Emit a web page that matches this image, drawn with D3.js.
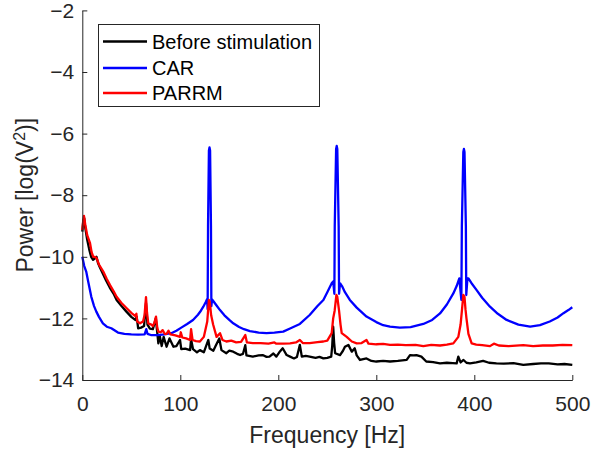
<!DOCTYPE html>
<html>
<head>
<meta charset="utf-8">
<script src="https://d3js.org/d3.v7.min.js"></script>
<style>
  body { margin: 0; background: #fff; }
  svg text { font-family: Arial, "Liberation Sans", Helvetica, sans-serif; fill: #262626; }
</style>
</head>
<body>
<div id="chart"></div>
<script>
// ---- data ----
var xTicks = [0, 100, 200, 300, 400, 500];
var yTicks = [-14, -12, -10, -8, -6, -4, -2];
var seriesNames = ["Before stimulation", "CAR", "PARRM"];
var seriesColors = ["#000000", "#0000ff", "#ff0000"];

// [frequency Hz, power log(V^2)]
var beforeStim = [
  [0,-9.18],[1,-8.85],[2,-8.75],[3,-9.05],[5,-9.45],[7,-9.75],[9,-10.0],[11,-10.1],[13,-10.05],[14.5,-10.0],
  [16,-10.2],[18,-10.35],[21,-10.55],[24,-10.75],[28,-11.0],[32,-11.2],[35,-11.4],[40,-11.6],[45,-11.78],
  [50,-11.95],[54,-12.05],[55.5,-11.95],[57,-12.32],[60,-12.3],[63,-12.25],[65,-11.5],[66.5,-12.2],[69,-12.33],
  [72,-12.35],[75,-12.0],[77.6,-12.81],[79,-12.55],[81,-12.9],[83,-12.6],[86,-12.92],[89,-12.65],[93,-12.92],
  [96,-12.9],[99.7,-12.7],[101,-13.0],[105,-12.98],[110,-13.03],[111,-12.68],[113,-13.0],[117,-13.1],[120,-13.03],
  [124,-13.1],[128.6,-12.7],[130,-12.98],[133.7,-13.05],[136,-12.9],[139.8,-12.65],[142,-13.03],[147,-13.13],
  [150,-13.05],[154,-13.08],[158,-13.15],[161,-13.19],[164,-13.15],[166.3,-12.87],[167.5,-13.2],[174,-13.24],
  [180,-13.2],[184,-13.19],[188,-13.25],[191,-13.24],[195,-13.14],[198,-13.24],[201,-13.1],[204.5,-12.97],
  [208.5,-13.19],[212,-13.24],[216,-13.3],[219,-13.25],[222,-12.86],[224,-13.24],[228,-13.22],[232,-13.24],
  [238,-13.28],[242,-13.25],[246,-13.3],[250,-13.28],[254,-13.24],[255,-12.9],[256,-12.27],[257,-12.8],
  [258,-13.13],[263,-13.19],[266,-13.05],[268,-12.92],[271.5,-12.86],[275,-13.08],[278,-12.97],[280,-13.2],
  [283.4,-13.35],[290,-13.3],[295,-13.38],[300,-13.4],[307,-13.38],[314,-13.4],[322,-13.38],[331,-13.35],
  [334.4,-13.19],[338,-13.2],[341,-13.19],[346,-13.24],[351,-13.4],[358,-13.42],[365,-13.46],[372,-13.44],
  [378,-13.45],[382,-13.46],[383.7,-13.24],[386,-13.43],[389,-13.35],[392,-13.44],[395.6,-13.46],[402,-13.43],
  [409,-13.38],[415,-13.44],[422.6,-13.46],[430,-13.47],[440,-13.45],[450,-13.51],[460,-13.48],[468,-13.46],
  [476,-13.46],[485,-13.49],[492,-13.48],[500,-13.51]
];

var car = [
  [0,-10.0],[1,-10.15],[2,-10.3],[4,-10.48],[6,-10.8],[9.2,-11.3],[12,-11.6],[14.3,-11.78],[17,-11.95],
  [21,-12.16],[25,-12.27],[29.6,-12.32],[36.4,-12.46],[43,-12.5],[50,-12.52],[57,-12.53],[63.6,-12.52],
  [65.3,-12.35],[66.5,-12.5],[70,-12.54],[77,-12.54],[84,-12.52],[90.8,-12.48],[96,-12.4],[101,-12.3],
  [107,-12.18],[113,-12.05],[118,-11.88],[121,-11.75],[123.5,-11.62],[126,-11.47],[127.3,-11.38],[127.9,-11.7],
  [128.3,-9.0],[129.2,-6.55],[129.8,-6.45],[130.4,-6.55],[131.3,-9.0],[131.7,-11.6],[132.4,-11.38],[134,-11.45],
  [137,-11.58],[140.5,-11.73],[145,-11.9],[150,-12.05],[154,-12.16],[160,-12.28],[165,-12.35],[171,-12.41],
  [180,-12.46],[188,-12.48],[196,-12.46],[205,-12.43],[212,-12.33],[222,-12.18],[232,-11.89],[240,-11.6],
  [246,-11.4],[250,-11.15],[254.5,-10.86],[256,-10.8],[257.2,-11.2],[257.6,-9.0],[259.0,-6.5],[259.6,-6.4],
  [260.2,-6.5],[261.6,-9.0],[262,-11.2],[263,-10.86],[265,-10.95],[268,-11.15],[273,-11.4],[280,-11.65],
  [290,-11.94],[300,-12.12],[307,-12.22],[314,-12.27],[324,-12.3],[335,-12.28],[348,-12.18],[357,-12.05],
  [365,-11.84],[372,-11.55],[378.6,-11.19],[382,-10.95],[384.7,-10.7],[386.8,-11.4],[387.3,-9.0],[388.8,-6.6],
  [389.4,-6.5],[390,-6.6],[391.4,-9.0],[391.8,-11.24],[393,-10.7],[394,-10.7],[397,-10.85],[402.4,-11.08],
  [408,-11.33],[416,-11.62],[424,-11.85],[433,-12.05],[445,-12.2],[457,-12.27],[467,-12.22],[477,-12.1],
  [485,-11.97],[491,-11.83],[496,-11.73],[500,-11.64]
];

var parrm = [
  [0,-9.13],[1,-8.8],[1.7,-8.67],[3,-8.95],[5,-9.3],[7.9,-9.56],[9.5,-9.85],[11.2,-10.0],[13,-10.0],[14.7,-10.05],
  [17,-10.25],[21.4,-10.48],[25,-10.72],[28.3,-10.92],[32,-11.12],[35,-11.3],[40,-11.5],[45.3,-11.67],[50,-11.82],
  [53.8,-11.92],[55.2,-11.85],[56,-12.1],[58.9,-12.16],[62,-12.1],[63.5,-11.9],[65,-11.31],[66,-11.8],[67.3,-12.16],
  [70.5,-12.2],[72,-12.25],[73.5,-12.15],[75.2,-11.94],[76.5,-12.3],[77.6,-12.43],[80,-12.45],[82,-12.38],
  [84,-12.5],[86,-12.5],[88,-12.4],[90,-12.52],[95,-12.55],[99.7,-12.6],[100.5,-12.45],[102,-12.62],[106,-12.65],
  [110,-12.7],[111,-12.35],[112.5,-12.7],[116,-12.74],[120,-12.75],[124,-12.6],[127.5,-12.1],[129.2,-11.4],
  [130,-11.45],[131.5,-11.9],[133.5,-12.2],[137,-12.6],[140.5,-12.48],[143,-12.7],[147,-12.75],[152,-12.72],
  [157,-12.78],[162,-12.76],[166.3,-12.54],[168,-12.78],[174,-12.8],[182,-12.8],[190,-12.82],[196,-12.78],
  [198,-12.82],[205,-12.82],[212,-12.81],[218,-12.78],[222,-12.7],[225,-12.8],[232,-12.8],[240,-12.77],
  [246,-12.75],[250,-12.72],[254.5,-12.48],[256,-12.0],[257.5,-11.75],[259.3,-11.24],[260.2,-11.3],[261,-11.5],
  [262,-11.75],[263.5,-12.2],[264.7,-12.48],[269.8,-12.6],[275,-12.75],[280,-12.81],[285,-12.8],[290,-12.7],
  [292,-12.82],[300,-12.84],[307,-12.83],[314,-12.86],[322,-12.85],[330,-12.87],[340,-12.86],[348,-12.9],
  [356,-12.86],[365,-12.88],[372,-12.85],[378.6,-12.81],[383.7,-12.6],[386,-12.2],[387.5,-11.7],[388.8,-11.24],
  [390,-11.3],[391,-11.7],[392,-12.0],[394,-12.5],[397.3,-12.81],[402,-12.85],[408,-12.87],[416,-12.9],
  [420,-12.82],[425,-12.88],[435,-12.9],[450,-12.87],[460,-12.9],[470,-12.88],[480,-12.88],[490,-12.86],
  [500,-12.87]
];

// ---- layout ----
var W = 593, H = 452;
var margin = { top: 10.4, right: 20.7, bottom: 72, left: 82.3 };
var width = W - margin.left - margin.right;
var height = H - margin.top - margin.bottom;

var svg = d3.select("#chart").append("svg")
    .attr("width", W)
    .attr("height", H);

var g = svg.append("g")
    .attr("transform", "translate(" + margin.left + "," + margin.top + ")");

var x = d3.scaleLinear().domain([0, 500]).range([0, width]);
var y = d3.scaleLinear().domain([-14, -2]).range([height, 0]);

var line = d3.line()
    .x(function(d) { return x(d[0]); })
    .y(function(d) { return y(d[1]); });

// lines: black, blue, red (red drawn on top)
var allSeries = [beforeStim, car, parrm];
allSeries.forEach(function(s, i) {
    g.append("path")
        .datum(s)
        .attr("d", line)
        .attr("fill", "none")
        .attr("stroke", seriesColors[i])
        .attr("stroke-width", 2.3)
        .attr("stroke-linejoin", "round");
});

// axes (MATLAB style: box off, ticks pointing in)
var xAxis = g.append("g")
    .attr("transform", "translate(0," + height + ")")
    .call(d3.axisBottom(x).tickValues(xTicks).tickSizeInner(-5).tickSizeOuter(0).tickPadding(16));
var yAxis = g.append("g")
    .call(d3.axisLeft(y).tickValues(yTicks).tickSizeInner(-5).tickSizeOuter(0).tickPadding(8));

[xAxis, yAxis].forEach(function(a) {
    a.select(".domain").attr("stroke", "#262626").attr("stroke-width", 1);
    a.selectAll(".tick line").attr("stroke", "#262626");
    a.selectAll(".tick text")
        .attr("fill", "#262626")
        .style("font-size", "21px")
        .style("font-family", "Arial, 'Liberation Sans', Helvetica, sans-serif");
});

// axis labels
svg.append("text")
    .attr("x", margin.left + width / 2)
    .attr("y", 442.5)
    .attr("text-anchor", "middle")
    .style("font-size", "23px")
    .text("Frequency [Hz]");

var yl = svg.append("text")
    .attr("transform", "translate(33," + (margin.top + height / 2) + ") rotate(-90)")
    .attr("text-anchor", "middle")
    .style("font-size", "23px");
yl.append("tspan").text("Power [log(V");
yl.append("tspan").attr("baseline-shift", "super").style("font-size", "16px").text("2");
yl.append("tspan").text(")]");

// legend
var lg = svg.append("g");
lg.append("rect")
    .attr("x", 98.5).attr("y", 24.5)
    .attr("width", 221).attr("height", 82)
    .attr("fill", "#fff")
    .attr("stroke", "#262626")
    .attr("stroke-width", 1);
var rowY = [41.5, 68, 93];
seriesNames.forEach(function(name, i) {
    lg.append("line")
        .attr("x1", 103).attr("x2", 147)
        .attr("y1", rowY[i]).attr("y2", rowY[i])
        .attr("stroke", seriesColors[i])
        .attr("stroke-width", 2.3);
    lg.append("text")
        .attr("x", 152)
        .attr("y", rowY[i])
        .attr("dy", "0.35em")
        .style("font-size", "20px")
        .style("fill", "#000")
        .text(name);
});
</script>
</body>
</html>
